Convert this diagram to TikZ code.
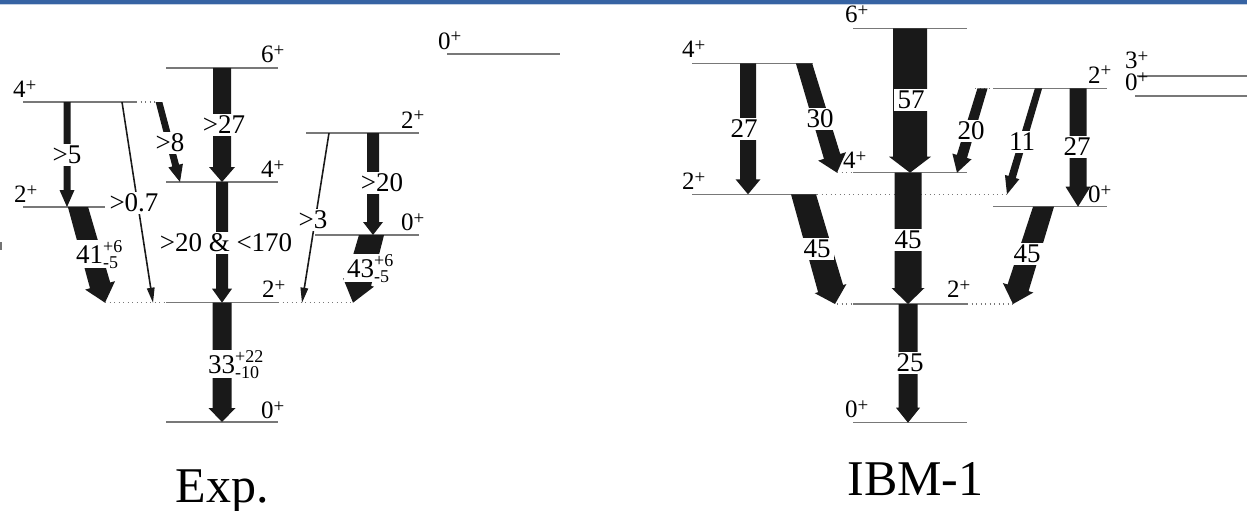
\documentclass[tikz,border=0pt]{standalone}
\usepackage{fontspec}
\setmainfont{Liberation Serif}
\usetikzlibrary{calc}

\definecolor{barblue}{RGB}{54,99,163}
\definecolor{levelgray}{RGB}{120,120,120}

% spin-parity label J^+
\newcommand\spin[1]{#1\raisebox{6pt}{\fontsize{19}{19}\selectfont +}}
% stacked upper/lower errors
\newcommand\ud[2]{\raisebox{-5pt}{\vbox{\fontsize{18}{15.5}\selectfont\hbox{#1}\hbox{#2}}}}

\tikzset{
  lvline/.style={draw=levelgray, line width=1.1pt},
  lvext/.style={draw=levelgray, line width=1.1pt, dash pattern=on 1.2pt off 3.3pt},
  jlab/.style={font=\fontsize{25}{28}\selectfont, inner sep=0pt, anchor=base west},
  tlab/.style={font=\fontsize{27}{30}\selectfont, fill=white, inner xsep=3.5pt, inner ysep=2pt},
  elab/.style={tlab, anchor=base west, inner ysep=0.3pt},
  capt/.style={font=\fontsize{50}{56}\selectfont, inner sep=0pt, anchor=base},
  tfill/.style={fill=black!90}
}

% level line: name, x-left, x-right, y
\newcommand\lvl[4]{%
  \coordinate (#1-l) at (#2,#4);
  \coordinate (#1-r) at (#3,#4);
  \draw[lvline] (#1-l) -- (#1-r);}

% filled transition arrow with a horizontal top edge:
% from, to, half shaft width, half head width, head length
\newcommand\fatarrow[5]{%
  \coordinate (fa-b) at ($(#2)!#5!(#1)$);
  \coordinate (fa-l) at ($(#1)!#3!-90:(#2)$);
  \coordinate (fa-r) at ($(#1)!#3!90:(#2)$);
  \fill[tfill] (fa-l |- #1) -- ($(fa-b)!#3!-90:(#2)$) -- ($(fa-b)!#4!-90:(#2)$)
     -- (#2) -- ($(fa-b)!#4!90:(#2)$) -- ($(fa-b)!#3!90:(#2)$) -- (fa-r |- #1) -- cycle;}

% named transition: name, start, tip, half shaft, half head, head length
\newcommand\garrow[6]{%
  \coordinate (#1-s) at (#2);
  \coordinate (#1-t) at (#3);
  \fatarrow{#1-s}{#1-t}{#4}{#5}{#6}}

\begin{document}
\begin{tikzpicture}[x=1pt,y=-1pt]
\useasboundingbox (0,0) rectangle (1247,511);

% header bar
\fill[barblue] (0,0) rectangle (1247,4);
\fill[barblue!30] (0,4) rectangle (1247,5.5);
\fill[black!55] (0,242) rectangle (1.5,250);

% ---------------- Exp. levels ----------------
\lvl{e6}{166}{278}{68}
\lvl{e4a}{23}{136}{102}
\draw[lvext] (e4a-r) -- (155,102);
\lvl{e4b}{166}{278}{182}
\lvl{e2a}{23}{105}{207}
\lvl{e2c}{306}{419}{133}
\lvl{e0c}{315}{419}{235}
\lvl{e2b}{166}{278}{302.7}
\draw[lvext] (105,302.7) -- (e2b-l);
\draw[lvext] (e2b-r) -- (353,302.7);
\lvl{e0b}{166}{278}{422}
\lvl{e0t}{447}{560}{54}

\node[jlab] (je6)  at (261,63)  {\spin{6}};
\node[jlab] (je4a) at (13,97)   {\spin{4}};
\node[jlab] (je4b) at (261,177) {\spin{4}};
\node[jlab] (je2a) at (14,202)  {\spin{2}};
\node[jlab] (je2c) at (401,128) {\spin{2}};
\node[jlab] (je0c) at (401,230) {\spin{0}};
\node[jlab] (je2b) at (262,297) {\spin{2}};
\node[jlab] (je0b) at (261,418) {\spin{0}};
\node[jlab] (je0t) at (438,49)  {\spin{0}};

% ---------------- Exp. transitions ----------------
\garrow{x1}{67,102}{67,207}{3.5pt}{7.5pt}{17pt}
\garrow{x2}{122,102}{153,302.7}{0.8pt}{4pt}{15pt}
\garrow{x3}{159,102}{180,182}{3.5pt}{7.5pt}{17pt}
\garrow{x4}{222,68}{222,182}{9pt}{13pt}{15pt}
\garrow{x5}{222,182}{222,302.7}{6pt}{10pt}{14pt}
\garrow{x6}{222,302.7}{222,422}{9.5pt}{13.5pt}{14pt}
\garrow{x7}{78,207}{105,302.7}{10.5pt}{15.5pt}{18pt}
\garrow{x8}{329,133}{302,302.7}{0.8pt}{4pt}{15pt}
\garrow{x9}{373,133}{373,235}{6pt}{10pt}{13pt}
\garrow{x10}{371.5,235}{353,302.7}{13pt}{16pt}{21pt}

\node[tlab] (bx1) at (67,155)  {>5};
\node[tlab] (bx2) at (134,203) {>0.7};
\node[tlab] (bx3) at (170,143) {>8};
\node[tlab] (bx4) at (224,125) {>27};
\node[tlab] (bx5) at (226,243) {>20 \& <170};
\node[elab] (bx6) at (204.5,373) {33\ud{+22}{-10}};
\node[elab] (bx7) at (72.5,263) {41\ud{+6}{-5}};
\node[tlab] (bx8) at (313,220) {>3};
\node[tlab] (bx9) at (382,183) {>20};
\node[elab] (bx10) at (343.5,277) {43\ud{+6}{-5}};

% ---------------- IBM-1 levels ----------------
\lvl{m6}{853}{967}{28.3}
\lvl{m4a}{692}{813}{63.3}
\lvl{m4b}{853}{967}{172.7}
\draw[lvext] (837,172.7) -- (m4b-l);
\lvl{m2a}{692}{817}{194.3}
\draw[lvext] (m2a-r) -- (1008,194.3);
\lvl{m2b}{853}{967}{304}
\draw[lvext] (837,304) -- (m2b-l);
\draw[lvext] (m2b-r) -- (1013,304);
\lvl{m0b}{853}{967}{422.7}
\lvl{m2c}{993}{1107}{88.3}
\draw[lvext] (975,88.3) -- (m2c-l);
\lvl{m0c}{993}{1107}{206.7}
\lvl{m3}{1137}{1247}{76}
\lvl{m0d}{1135}{1247}{96}

\node[jlab] (jm6)  at (845,23)   {\spin{6}};
\node[jlab] (jm4a) at (682,58)   {\spin{4}};
\node[jlab] (jm4b) at (843,168)  {\spin{4}};
\node[jlab] (jm2a) at (682,189)  {\spin{2}};
\node[jlab] (jm2c) at (1088,83)  {\spin{2}};
\node[jlab] (jm0c) at (1088,202) {\spin{0}};
\node[jlab] (jm2b) at (947,297)  {\spin{2}};
\node[jlab] (jm0b) at (845,417)  {\spin{0}};
\node[jlab] (jm3)  at (1125,69)  {\spin{3}};
\node[jlab] (jm0d) at (1125,90)  {\spin{0}};

% ---------------- IBM-1 transitions ----------------
\garrow{y1}{748,63.3}{748,194.3}{8pt}{12.5pt}{15pt}
\garrow{y2}{804,63.3}{837,172.7}{8.5pt}{14.5pt}{17pt}
\garrow{y3}{910,28.3}{910,172.7}{17pt}{21pt}{16pt}
\garrow{y4}{982.5,88.3}{957,172.7}{5.3pt}{10pt}{17pt}
\garrow{y5}{1038.5,88.3}{1007,194.3}{3.8pt}{7.5pt}{18pt}
\garrow{y6}{1078,88.3}{1078,206.7}{8.5pt}{12.5pt}{20pt}
\garrow{y7}{908,172.7}{908,304}{13.5pt}{16.5pt}{16pt}
\garrow{y8}{803.5,194.3}{835,304}{13pt}{16.5pt}{16pt}
\garrow{y9}{1043.5,206.7}{1013,304}{11pt}{16pt}{17pt}
\garrow{y10}{908,304}{908,422.7}{9.5pt}{12pt}{15pt}

\node[tlab] (by1)  at (744,129)  {27};
\node[tlab] (by2)  at (820,119)  {30};
\node[tlab] (by3)  at (911,100)  {57};
\node[tlab] (by4)  at (971,131)  {20};
\node[tlab] (by5)  at (1022,142) {11};
\node[tlab] (by6)  at (1077,147) {27};
\node[tlab] (by7)  at (908,240)  {45};
\node[tlab] (by8)  at (817,249)  {45};
\node[tlab] (by9)  at (1027,254) {45};
\node[tlab] (by10) at (910,363)  {25};

% captions
\node[capt] (cexp) at (222,502) {Exp.};
\node[capt] (cibm) at (915.5,495) {IBM-1};
\end{tikzpicture}
\end{document}
